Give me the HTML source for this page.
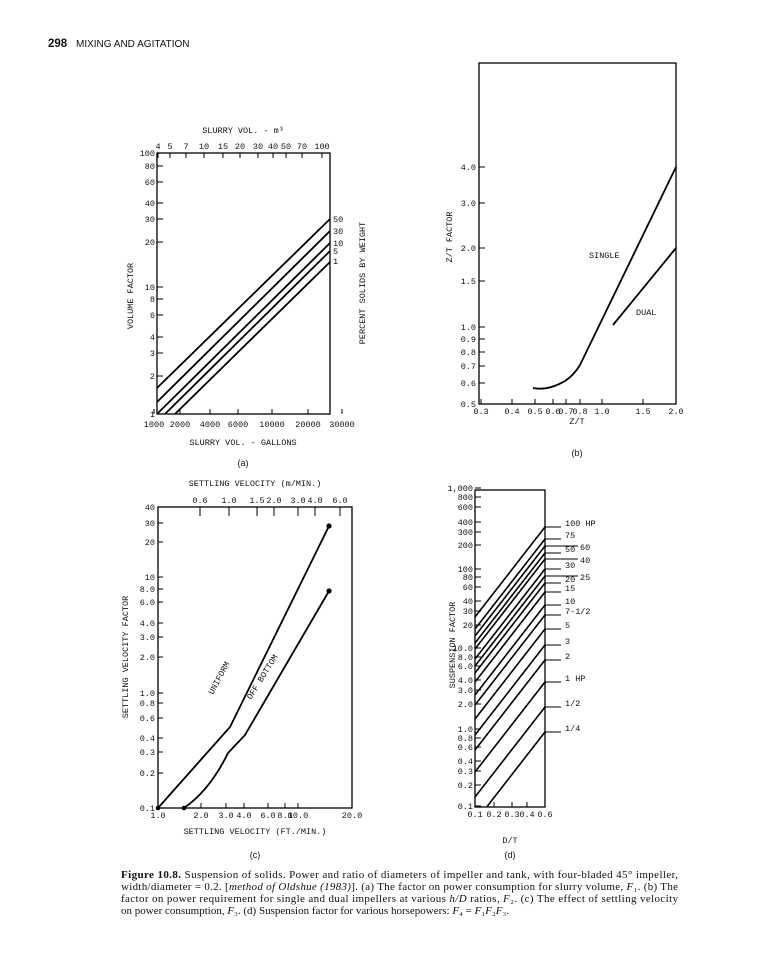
<!DOCTYPE html>
<html><head><meta charset="utf-8"><style>
body{margin:0;background:#fff;}
svg{display:block}
text{font-family:"Liberation Mono",monospace;font-size:8.5px;fill:#111}
.cap{font-family:"Liberation Serif",serif;font-size:11px}
</style></head><body>
<svg id="s" width="758" height="970" viewBox="0 0 758 970" xmlns="http://www.w3.org/2000/svg">
<text x="48" y="47" style="font-family:'Liberation Sans',sans-serif;font-size:11.5px;font-weight:bold">298</text>
<text x="76" y="47" style="font-family:'Liberation Sans',sans-serif;font-size:10px">MIXING AND AGITATION</text>
<g stroke="#000" fill="none" stroke-width="1.3">
<rect x="157" y="153" width="173" height="261"/>
<rect x="479" y="63" width="197" height="341"/>
<rect x="158" y="507" width="194" height="301"/>
<rect x="475" y="490" width="70" height="317"/>
</g>
<g stroke="#000" fill="none" stroke-width="1.8">
<line x1="157" y1="388" x2="330" y2="219"/>
<line x1="157" y1="402" x2="330" y2="231"/>
<line x1="158" y1="413" x2="330" y2="243"/>
<line x1="165" y1="414" x2="330" y2="251"/>
<line x1="175" y1="414" x2="330" y2="262"/>
<path d="M533 388 Q548 391 565 381 Q574 375 580 365 L676 167"/>
<line x1="613" y1="325" x2="676" y2="248"/>
<path d="M158 808 L230 727 L329 526"/>
<path d="M184 808 Q210 790 228 753 L245 735 L329 591"/>
</g>
<circle cx="329" cy="526" r="2.6"/><circle cx="329" cy="591" r="2.6"/>
<circle cx="158" cy="808" r="2.3"/><circle cx="184" cy="808" r="2.3"/>
<g id="d" stroke="#000" stroke-width="1.6" fill="none"></g>
<g id="tk" stroke="#000" stroke-width="1"></g>
<g id="tx"></g>
<text x="243" y="133" text-anchor="middle">SLURRY VOL. - m³</text>
<text x="243" y="445" text-anchor="middle">SLURRY VOL. - GALLONS</text>
<text x="243" y="466" text-anchor="middle" style="font-family:'Liberation Sans',sans-serif;font-size:9px">(a)</text>
<text transform="translate(133,296) rotate(-90)" text-anchor="middle">VOLUME FACTOR</text>
<text transform="translate(365,283) rotate(-90)" text-anchor="middle">PERCENT SOLIDS BY WEIGHT</text>
<text x="333" y="222">50</text><text x="333" y="234">30</text><text x="333" y="246">10</text><text x="333" y="254">5</text><text x="333" y="264">1</text>
<text transform="translate(452,237) rotate(-90)" text-anchor="middle">Z/T FACTOR</text>
<text x="589" y="258">SINGLE</text><text x="636" y="315">DUAL</text>
<text x="577" y="424" text-anchor="middle">Z/T</text>
<text x="577" y="456" text-anchor="middle" style="font-family:'Liberation Sans',sans-serif;font-size:9px">(b)</text>
<text x="255" y="486" text-anchor="middle">SETTLING VELOCITY (m/MIN.)</text>
<text x="255" y="834" text-anchor="middle">SETTLING VELOCITY (FT./MIN.)</text>
<text x="255" y="858" text-anchor="middle" style="font-family:'Liberation Sans',sans-serif;font-size:9px">(c)</text>
<text transform="translate(128,657) rotate(-90)" text-anchor="middle">SETTLING VELOCITY FACTOR</text>
<text transform="translate(213,695) rotate(-62)" font-size="7.5">UNIFORM</text>
<text transform="translate(251,700) rotate(-58)" font-size="7.5">OFF BOTTOM</text>
<text transform="translate(455,645) rotate(-90)" text-anchor="middle">SUSPENSION FACTOR</text>
<text x="510" y="843" text-anchor="middle">D/T</text>
<text x="510" y="858" text-anchor="middle" style="font-family:'Liberation Sans',sans-serif;font-size:9px">(d)</text>
<text class="cap" x="121" y="878" textLength="557" lengthAdjust="spacing"><tspan font-weight="bold">Figure 10.8.</tspan> Suspension of solids. Power and ratio of diameters of impeller and tank, with four-bladed 45° impeller,</text>
<text class="cap" x="121" y="890" textLength="557" lengthAdjust="spacing">width/diameter = 0.2. [<tspan font-style="italic">method of Oldshue (1983)</tspan>]. (a) The factor on power consumption for slurry volume, <tspan font-style="italic">F</tspan>₁. (b) The</text>
<text class="cap" x="121" y="902" textLength="557" lengthAdjust="spacing">factor on power requirement for single and dual impellers at various <tspan font-style="italic">h/D</tspan> ratios, <tspan font-style="italic">F</tspan>₂. (c) The effect of settling velocity</text>
<text class="cap" x="121" y="914">on power consumption, <tspan font-style="italic">F</tspan>₃. (d) Suspension factor for various horsepowers: <tspan font-style="italic">F</tspan>₄ = <tspan font-style="italic">F</tspan>₁<tspan font-style="italic">F</tspan>₂<tspan font-style="italic">F</tspan>₃.</text>
</svg>
<script>
var NS="http://www.w3.org/2000/svg";
function el(p,t,a,txt){var e=document.createElementNS(NS,t);for(var k in a)e.setAttribute(k,a[k]);if(txt!==undefined)e.textContent=txt;document.getElementById(p).appendChild(e);}
var R=[[527,"100 HP",565,0],[539,"75",565,0],[546,"60",580,1],[553,"50",565,0],[559,"40",580,1],[569,"30",565,0],[576,"25",580,1],[583,"20",565,0],[592,"15",565,0],[605,"10",565,0],[615,"7-1/2",565,0],[629,"5",565,0],[645,"3",565,0],[660,"2",565,0],[682,"1 HP",565,0],[707,"1/2",565,0],[732,"1/4",565,0]];
R.forEach(function(r){var y=r[0],yl=y+90,xl=475;if(yl>807){xl=545-70*(807-y)/90;yl=807;}
el("d","line",{x1:xl,y1:yl,x2:545,y2:y});el("tk","line",{x1:545,y1:y,x2:r[3]?578:561,y2:y});
el("tx","text",{x:r[2],y:y+(r[3]?4:-1)},r[1]);});
function L(arr,x,anchor,dy,side,tx1,tx2){arr.forEach(function(a){el("tx","text",{x:x,y:a[1]+dy,"text-anchor":anchor},a[0]);el("tk","line",{x1:tx1,y1:a[1],x2:tx2,y2:a[1]});});}
function B(arr,y,ty1,ty2){arr.forEach(function(a){el("tx","text",{x:a[1],y:y,"text-anchor":"middle"},a[0]);el("tk","line",{x1:a[1],y1:ty1,x2:a[1],y2:ty2});});}
L([["100",153],["80",166],["60",182],["40",203],["30",219],["20",242],["10",287],["8",299],["6",315],["4",337],["3",353],["2",376],["1",414]],155,"end",3,0,157,163);
B([["4",158],["5",170],["7",186],["10",204],["15",223],["20",240],["30",258],["40",273],["50",286],["70",302],["100",322]],149,153,158);
B([["1000",154],["2000",180],["4000",210],["6000",238],["10000",272],["20000",308],["30000",342]],427,414,409);
L([["4.0",167],["3.0",203],["2.0",248],["1.5",281],["1.0",327],["0.9",339],["0.8",352],["0.7",366],["0.6",383],["0.5",404]],476,"end",3,0,479,485);
B([["0.3",481],["0.4",512],["0.5",535],["0.6",553],["0.7",566],["0.8",580],["1.0",602],["1.5",643],["2.0",676]],414,404,399);
L([["40",507],["30",523],["20",542],["10",577],["8.0",589],["6.0",602],["4.0",623],["3.0",637],["2.0",657],["1.0",693],["0.8",703],["0.6",718],["0.4",738],["0.3",752],["0.2",773],["0.1",808]],155,"end",3,0,158,163);
B([["1.0",158],["2.0",201],["3.0",226],["4.0",244],["6.0",268],["8.0",285],["10.0",298],["20.0",352]],818,808,803);
B([["0.6",200],["1.0",229],["1.5",257],["2.0",274],["3.0",298],["4.0",315],["6.0",340]],503,507,516);
L([["1,000",488],["800",497],["600",507],["400",522],["300",532],["200",545],["100",569],["80",577],["60",587],["40",601],["30",611],["20",625],["10.0",648],["8.0",657],["6.0",666],["4.0",680],["3.0",690],["2.0",704],["1.0",729],["0.8",738],["0.6",747],["0.4",761],["0.3",771],["0.2",785],["0.1",806]],473,"end",3,0,475,481);
B([["0.1",475],["0.2",494],["0.3",512],["0.4",527],["0.6",545]],817,807,802);
</script>
</body></html>
